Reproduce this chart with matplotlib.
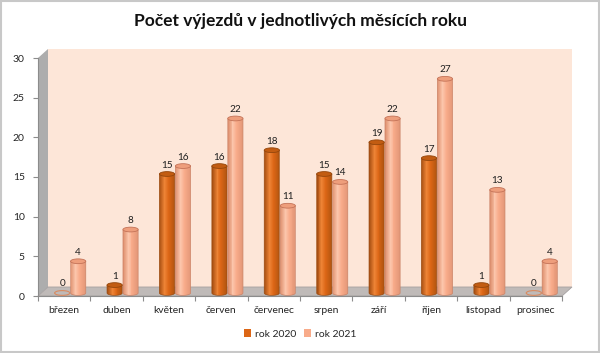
import numpy as np
import matplotlib
matplotlib.use("Agg")
import matplotlib.pyplot as plt
from matplotlib.transforms import ScaledTranslation, IdentityTransform
from matplotlib.patches import Ellipse, Polygon, PathPatch, Patch, Rectangle
from matplotlib.path import Path
import matplotlib.colors as mcolors

plt.rcParams['font.family'] = ['Lato', 'DejaVu Sans']

months = ["březen", "duben", "květen", "červen", "červenec", "srpen",
          "září", "říjen", "listopad", "prosinec"]
rok2020 = [0, 1, 15, 16, 18, 15, 19, 17, 1, 0]
rok2021 = [4, 8, 16, 22, 11, 14, 22, 27, 13, 4]
series_names = ["rok 2020", "rok 2021"]
yticks = [0, 5, 10, 15, 20, 25, 30]
title = "Počet výjezdů v jednotlivých měsících roku"

DPI = 100
W, H = 600, 353
fig = plt.figure(figsize=(W / DPI, H / DPI), dpi=DPI)
L, R, B, T = 38, 562, 296, 58
ax = fig.add_axes([L / W, 1 - B / H, (R - L) / W, (B - T) / H])
ax.set_xlim(-0.5, 9.5)
ax.set_ylim(0, 30)
ax.set_autoscale_on(False)
ax.set_facecolor('none')


def off(dx, dy):
    return ax.transData + ScaledTranslation(dx / DPI, dy / DPI, fig.dpi_scale_trans)


BACK = (10, 9)
BAR = (6, 3)

# back wall
ax.add_patch(Rectangle((-0.5, 0), 10, 30, transform=off(*BACK), fc='#FDE6D8',
                       ec='none', zorder=0, clip_on=False))


def disp(x, y, dx=0, dy=0):
    p = ax.transData.transform((x, y))
    return (p[0] + dx, p[1] + dy)


# side wall
side = [disp(-0.5, 0), disp(-0.5, 30), disp(-0.5, 30, *BACK), disp(-0.5, 0, *BACK)]
ax.add_patch(Polygon(side, closed=True, transform=IdentityTransform(), fc='#ADADAD',
                     ec='none', zorder=0.5, clip_on=False))
# floor
floor = [disp(-0.5, 0), disp(9.5, 0), disp(9.5, 0, *BACK), disp(-0.5, 0, *BACK)]
ax.add_patch(Polygon(floor, closed=True, transform=IdentityTransform(), fc='#BFBAB8',
                     ec='#A5A0A0', lw=0.6, zorder=0.6, clip_on=False))

bar_trans = off(*BAR)
label_trans = off(BAR[0], BAR[1] + 9)

w = 0.29
e = 0.6
dx_pair = 0.152

styles = [
    dict(stops=['#A24A0E', '#EE8436', '#DC6616', '#B0540F'],
         top_fc='#C25C12', top_ec='#94460C', edge='#9C4C10', zero_ec='#D98A60'),
    dict(stops=['#DC8C6A', '#FCC6AC', '#F8AB8A', '#E29676'],
         top_fc='#EE9E7C', top_ec='#C47358', edge='#CC8468', zero_ec='#D98A60'),
]


def grad(stops, t):
    pos = [0.0, 0.35, 0.6, 1.0]
    rgb = np.array([mcolors.to_rgb(s) for s in stops])
    return tuple(np.interp(t, pos, rgb[:, k]) for k in range(3))


def cylinder(xc, v, st):
    if v <= 0:
        ax.add_patch(Ellipse((xc, 0), w, e, transform=bar_trans, fc='none',
                             ec=st['zero_ec'], lw=0.8, zorder=3, clip_on=False))
        return
    th = np.linspace(np.pi, 2 * np.pi, 30)
    verts = [(xc - w / 2, v)] + [(xc + w / 2 * np.cos(a), e / 2 * np.sin(a)) for a in th] + [(xc + w / 2, v), (xc - w / 2, v)]
    codes = [Path.MOVETO] + [Path.LINETO] * (len(verts) - 2) + [Path.CLOSEPOLY]
    path = Path(verts, codes)
    clip = PathPatch(path, transform=bar_trans, fc='none', ec='none')
    n = 16
    edges = np.linspace(xc - w / 2, xc + w / 2, n + 1)
    centers = (edges[:-1] + edges[1:]) / 2
    ts = (np.arange(n) + 0.5) / n
    cols = [grad(st['stops'], t) for t in ts]
    bars = ax.bar(centers, v + e / 2, bottom=-e / 2, width=(w / n) * 1.05, color=cols,
                  linewidth=0, transform=bar_trans, zorder=3)
    for b in bars:
        b.set_clip_path(clip)
    ax.add_patch(PathPatch(path, transform=bar_trans, fc='none', ec=st['edge'], lw=0.5,
                           zorder=3.1, clip_on=False))
    ax.add_patch(Ellipse((xc, v), w, e, transform=bar_trans, fc=st['top_fc'],
                         ec=st['top_ec'], lw=0.6, zorder=3.2, clip_on=False))


x = np.arange(len(months))
for i, (a, b) in enumerate(zip(rok2020, rok2021)):
    for k, v in enumerate((a, b)):
        xc = x[i] + (-dx_pair if k == 0 else dx_pair)
        cylinder(xc, v, styles[k])
        ax.text(xc, v, str(v), transform=label_trans, ha='center', va='center',
                fontsize=7.2, color='#1f1f1f', zorder=5)

# axes styling
for s in ['top', 'right']:
    ax.spines[s].set_visible(False)
ax.spines['left'].set_color('#8C8C8C')
ax.spines['bottom'].set_color('#8C8C8C')
ax.spines['left'].set_linewidth(0.8)
ax.spines['bottom'].set_linewidth(0.8)
ax.set_yticks(yticks)
ax.set_yticklabels([str(t) for t in yticks], fontsize=7.5, color='#262626')
ax.tick_params(axis='y', length=3.5, width=0.8, color='#8C8C8C', pad=6)
ax.set_xticks(np.arange(-0.5, 10, 1.0))
ax.set_xticklabels([])
ax.tick_params(axis='x', which='major', length=3.5, width=0.8, color='#8C8C8C')
ax.set_xticks(x, minor=True)
ax.set_xticklabels(months, minor=True, fontsize=7.5, color='#262626')
ax.tick_params(axis='x', which='minor', length=0, pad=7)

fig.text(0.5, 1 - 21 / H, title, ha='center', va='center', fontsize=12.5,
         fontweight='bold', color='#111111')

handles = [Patch(fc=styles[0]['stops'][2], ec='none'),
           Patch(fc=styles[1]['stops'][2], ec='none')]
fig.legend(handles, series_names, loc='center', bbox_to_anchor=(0.5, 1 - 334 / H),
           ncol=2, frameon=False, fontsize=7.5, handlelength=0.7, handleheight=0.7,
           handletextpad=0.3, columnspacing=0.8, labelcolor='#262626')

fig.add_artist(Rectangle((0.001, 0.002), 0.997, 0.995, transform=fig.transFigure,
                         fill=False, ec='#C8C8C8', lw=1.5))

fig.savefig('out.png', dpi=DPI)
